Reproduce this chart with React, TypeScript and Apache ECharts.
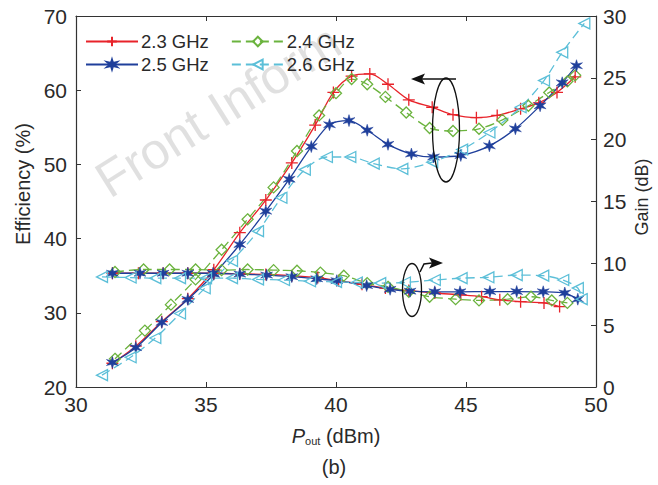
import React, { useEffect, useRef } from "react";
import * as echarts from "echarts";

// ---- Data ----
const effX23 = [31.4, 32.3, 33.3, 34.3, 35.3, 36.3, 37.3, 38.3, 39.2, 39.9, 40.6, 41.3, 42.0, 42.8, 43.7, 44.5, 45.4, 46.2, 47.1, 47.8, 48.5, 49.2];
const eff23 = [23.2, 25.5, 28.8, 31.9, 35.8, 40.8, 45.2, 50.2, 55.3, 59.7, 61.9, 62.2, 60.8, 58.7, 57.7, 56.7, 56.3, 56.6, 57.5, 58.3, 59.7, 61.8];
const effX24 = [31.5, 32.65, 33.65, 34.6, 35.6, 36.6, 37.6, 38.5, 39.35, 40.0, 40.6, 41.2, 41.9, 42.7, 43.6, 44.5, 45.5, 46.4, 47.4, 48.2, 48.9, 49.2];
const eff24 = [23.8, 27.6, 31.1, 34.5, 38.5, 42.6, 46.9, 51.8, 56.6, 59.6, 61.5, 60.8, 59.1, 57.0, 54.9, 54.5, 54.8, 56.0, 57.9, 59.7, 61.2, 62.0];
const effX25 = [31.4, 32.3, 33.3, 34.3, 35.3, 36.3, 37.3, 38.2, 39.05, 39.75, 40.5, 41.2, 42.0, 42.9, 43.75, 44.8, 45.9, 46.9, 47.85, 48.7, 49.25];
const eff25 = [23.3, 25.3, 28.7, 31.8, 35.2, 39.2, 43.7, 48.0, 52.4, 55.35, 55.9, 54.6, 52.7, 51.4, 51.0, 51.2, 52.5, 54.8, 57.9, 61.0, 63.3];
const effX26 = [31.0, 32.1, 33.05, 34.0, 34.95, 36.0, 37.0, 37.9, 38.8, 39.65, 40.55, 41.45, 42.55, 43.7, 44.85, 45.9, 47.1, 48.0, 48.7, 49.55];
const eff26 = [21.6, 24.0, 26.6, 29.9, 33.3, 37.0, 41.0, 45.5, 49.3, 51.0, 51.0, 50.1, 49.4, 50.3, 52.0, 54.3, 57.7, 61.3, 65.1, 69.0];

const gainX23 = [31.4, 32.4, 33.35, 34.3, 35.3, 36.3, 37.3, 38.3, 39.3, 40.1, 41.0, 41.9, 42.8, 43.8, 44.8, 45.6, 46.3, 47.1, 48.0, 48.6];
const gain23 = [9.2, 9.2, 9.2, 9.2, 9.2, 9.15, 9.1, 9.0, 8.85, 8.6, 8.3, 8.0, 7.8, 7.6, 7.45, 7.3, 7.05, 6.9, 6.8, 6.5];
const gainX24 = [31.5, 32.6, 33.6, 34.6, 35.6, 36.6, 37.6, 38.5, 39.4, 40.3, 41.2, 42.0, 42.8, 43.6, 44.6, 45.5, 46.6, 47.5, 48.3, 48.9];
const gain24 = [9.3, 9.5, 9.5, 9.5, 9.45, 9.5, 9.45, 9.4, 9.25, 9.0, 8.4, 8.1, 7.7, 7.3, 7.1, 7.0, 7.1, 7.3, 7.0, 6.8];
const gainX25 = [31.4, 32.46, 33.35, 34.3, 35.27, 36.3, 37.33, 38.3, 39.26, 40.03, 41.18, 42.08, 42.85, 43.8, 44.77, 45.92, 46.95, 47.97, 48.8, 49.3];
const gain25 = [9.2, 9.2, 9.2, 9.2, 9.2, 9.13, 9.05, 8.92, 8.75, 8.6, 8.2, 7.9, 7.75, 7.7, 7.7, 7.72, 7.72, 7.7, 7.6, 7.1];
const gainX26 = [31.0, 32.1, 33.05, 34.0, 35.0, 36.0, 37.0, 38.0, 39.0, 40.0, 40.8, 41.7, 42.65, 43.8, 44.83, 45.86, 46.95, 47.97, 48.74, 49.3, 49.45];
const gain26 = [8.9, 8.85, 8.8, 8.8, 8.8, 8.8, 8.7, 8.65, 8.55, 8.5, 8.45, 8.4, 8.45, 8.65, 8.8, 8.87, 9.05, 9.0, 8.65, 8.0, 7.1];

const seriesNames = ["2.3 GHz", "2.4 GHz", "2.5 GHz", "2.6 GHz"];
const xTicks = { min: 30, max: 50, interval: 5 };
const effTicks = { min: 20, max: 70, interval: 10 };
const gainTicks = { min: 0, max: 30, interval: 5 };

const zip = (xs: number[], ys: number[]) => xs.map((x, i) => [x, ys[i]]);

const COLORS = ["#e8232a", "#6bb33e", "#1f3f9b", "#5cbfd8"];
const FONT = "Liberation Sans, Arial, sans-serif";
const TXT = "#2a2a2a";

function starPath() {
  const pts: string[] = [];
  const n = 6;
  for (let i = 0; i < n * 2; i++) {
    const r = i % 2 === 0 ? 6 : 2.2;
    const a = (Math.PI * i) / n - Math.PI / 2;
    pts.push(`${(r * Math.cos(a) + 6).toFixed(2)},${(r * Math.sin(a) + 6).toFixed(2)}`);
  }
  return "path://M" + pts.join("L") + "Z";
}

const SYMBOLS = [
  { symbol: "path://M5,0L5,10M0,5L10,5", size: 12, fill: "none" },
  { symbol: "diamond", size: 11, fill: "none" },
  { symbol: starPath(), size: 12, fill: "fill" },
  { symbol: "path://M10,0L0,5L10,10Z", size: 11, fill: "none" },
];
const DASH = [false, true, false, true];

export default function App() {
  const ref = useRef<HTMLDivElement>(null);
  useEffect(() => {
    if (!ref.current) return;
    const chart = echarts.init(ref.current, undefined, { renderer: "svg" });
    const effData = [zip(effX23, eff23), zip(effX24, eff24), zip(effX25, eff25), zip(effX26, eff26)];
    const gainData = [zip(gainX23, gain23), zip(gainX24, gain24), zip(gainX25, gain25), zip(gainX26, gain26)];

    const mkSeries = (i: number, data: number[][], yAxisIndex: number) => ({
      name: seriesNames[i],
      type: "line",
      yAxisIndex,
      data,
      smooth: 0.3,
      symbol: SYMBOLS[i].symbol,
      symbolSize: SYMBOLS[i].size,
      showAllSymbol: true,
      lineStyle: { color: COLORS[i], width: 1.3, type: DASH[i] ? [9, 5] : "solid" },
      itemStyle: {
        color: SYMBOLS[i].fill === "none" ? "rgba(0,0,0,0)" : COLORS[i],
        borderColor: COLORS[i],
        borderWidth: SYMBOLS[i].fill === "none" ? 1.3 : 0.5,
      },
      emphasis: { disabled: true },
      z: 3,
    });

    const series: any[] = [];
    for (let i = 0; i < 4; i++) series.push(mkSeries(i, effData[i], 0));
    for (let i = 0; i < 4; i++) series.push(mkSeries(i, gainData[i], 1));

    const axisLine = { show: true, lineStyle: { color: "#333", width: 1.2 } };
    const tick = { show: true, inside: true, length: 5, lineStyle: { color: "#333" } };
    const labelStyle = { color: TXT, fontSize: 21, fontFamily: FONT };

    const legendCommon = {
      left: 80,
      itemWidth: 52,
      itemHeight: 12,
      itemGap: 22,
      textStyle: { fontSize: 18.5, fontFamily: FONT, color: TXT, padding: [0, 0, 0, -2] },
      selectedMode: false,
    };

    chart.setOption({
      animation: false,
      backgroundColor: "#fff",
      grid: { left: 76, right: 62, top: 16, bottom: 98 },
      legend: [
        { ...legendCommon, top: 27, data: ["2.3 GHz", "2.4 GHz"] },
        { ...legendCommon, top: 50, data: ["2.5 GHz", "2.6 GHz"] },
      ],
      xAxis: [
        {
          type: "value",
          ...xTicks,
          position: "bottom",
          axisLine,
          axisTick: tick,
          splitLine: { show: false },
          axisLabel: { ...labelStyle, margin: 7 },
          name: "{i|P}{s|out} (dBm)",
          nameLocation: "middle",
          nameGap: 38,
          nameTextStyle: {
            fontSize: 20,
            fontFamily: FONT,
            color: TXT,
            rich: {
              i: { fontStyle: "italic", fontSize: 20, fontFamily: FONT, color: TXT },
              s: { fontSize: 11, fontFamily: FONT, color: TXT, padding: [10, 0, 0, 0] },
            },
          },
        },
        {
          type: "value",
          ...xTicks,
          position: "top",
          axisLine,
          axisTick: tick,
          axisLabel: { show: false },
          splitLine: { show: false },
        },
      ],
      yAxis: [
        {
          type: "value",
          ...effTicks,
          position: "left",
          axisLine,
          axisTick: tick,
          splitLine: { show: false },
          axisLabel: { ...labelStyle, margin: 9 },
        },
        {
          type: "value",
          ...gainTicks,
          position: "right",
          axisLine,
          axisTick: tick,
          splitLine: { show: false },
          axisLabel: { ...labelStyle, margin: 7 },
        },
      ],
      graphic: [
        {
          type: "text",
          x: 114,
          y: 206,
          rotation: 0.56,
          z: -10,
          silent: true,
          style: {
            text: "Front Inform",
            fontSize: 51,
            fontFamily: FONT,
            fill: "rgba(0,0,0,0.12)",
            textAlign: "left",
            textVerticalAlign: "bottom",
          },
        },
        {
          type: "text",
          x: 23,
          y: 184,
          rotation: Math.PI / 2,
          style: {
            text: "Efficiency (%)",
            fontSize: 20,
            fontFamily: FONT,
            fill: TXT,
            textAlign: "center",
            textVerticalAlign: "middle",
          },
        },
        {
          type: "text",
          x: 642,
          y: 197,
          rotation: Math.PI / 2,
          style: {
            text: "Gain (dB)",
            fontSize: 18,
            fontFamily: FONT,
            fill: TXT,
            textAlign: "center",
            textVerticalAlign: "middle",
          },
        },
        {
          type: "ellipse",
          shape: { cx: 446, cy: 130, rx: 13.5, ry: 52 },
          style: { fill: "none", stroke: "#111", lineWidth: 1.3 },
          z: 10,
        },
        {
          type: "line",
          shape: { x1: 456, y1: 79, x2: 422, y2: 79 },
          style: { stroke: "#111", lineWidth: 1.5 },
          z: 10,
        },
        {
          type: "polygon",
          shape: { points: [[411, 79], [425, 73.5], [422, 79], [425, 84.5]] },
          style: { fill: "#111" },
          z: 10,
        },
        {
          type: "ellipse",
          shape: { cx: 412, cy: 290, rx: 9.5, ry: 26.5 },
          style: { fill: "none", stroke: "#111", lineWidth: 1.3 },
          z: 10,
        },
        {
          type: "polyline",
          shape: { points: [[420, 272], [424, 264], [432, 263]] },
          style: { fill: "none", stroke: "#111", lineWidth: 1.5 },
          z: 10,
        },
        {
          type: "polygon",
          shape: { points: [[443, 263], [429, 257.5], [432, 263], [429, 268.5]] },
          style: { fill: "#111" },
          z: 10,
        },
        {
          type: "text",
          x: 334,
          y: 467,
          style: {
            text: "(b)",
            fontSize: 20,
            fontFamily: FONT,
            fill: TXT,
            textAlign: "center",
            textVerticalAlign: "middle",
          },
        },
      ],
      series,
    });
    return () => chart.dispose();
  }, []);
  return <div ref={ref} style={{ width: 658, height: 485, position: "absolute", left: 0, top: 0 }} />;
}
